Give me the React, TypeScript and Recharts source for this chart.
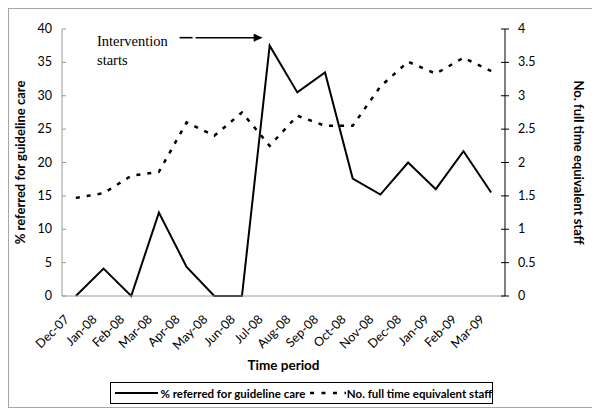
import React from 'react';
import { ComposedChart, Line, XAxis, YAxis, Legend, ReferenceLine } from 'recharts';

const months = ['Dec-07','Jan-08','Feb-08','Mar-08','Apr-08','May-08','Jun-08','Jul-08','Aug-08','Sep-08','Oct-08','Nov-08','Dec-08','Jan-09','Feb-09','Mar-09'];
const referred = [0, 4.1, 0, 12.5, 4.35, 0, 0, 37.5, 30.5, 33.5, 17.6, 15.2, 20.0, 16.0, 21.7, 15.5];
const staff = [1.47, 1.54, 1.8, 1.86, 2.6, 2.4, 2.75, 2.25, 2.7, 2.55, 2.55, 3.14, 3.51, 3.33, 3.57, 3.37];
const leftTicks = [0, 5, 10, 15, 20, 25, 30, 35, 40];
const rightTicks = [0, 0.5, 1, 1.5, 2, 2.5, 3, 3.5, 4];

const data = months.map((m, i) => ({ month: m, referred: referred[i], staff: staff[i] }));

const FONT = 'Lato, "Liberation Sans", sans-serif';

const LeftTick = (props: any) => {
  const { x, y, payload } = props;
  return (
    <g>
      <line x1={x + 8} x2={x + 12} y1={y} y2={y} stroke="#9a9a9a" strokeWidth={1} />
      <text x={x - 2} y={y} dy={4} textAnchor="end" fontSize={12.5} fontFamily={FONT} fill="#000">{payload.value}</text>
    </g>
  );
};

const RightTick = (props: any) => {
  const { x, y, payload } = props;
  return (
    <g>
      <line x1={x - 12} x2={x - 4} y1={y} y2={y} stroke="#000" strokeWidth={1} />
      <text x={x + 5} y={y} dy={4} textAnchor="start" fontSize={12.5} fontFamily={FONT} fill="#000">{payload.value}</text>
    </g>
  );
};

const XTick = (props: any) => {
  const { x, y, payload } = props;
  const ax = x - 6;
  const ay = y + 16;
  return (
    <text x={ax} y={ay} textAnchor="end" fontSize={12.5} fontFamily={FONT} fill="#000" transform={`rotate(-45 ${ax} ${ay})`}>{payload.value}</text>
  );
};

const ArrowShape = (props: any) => {
  const { x1, y1, x2 } = props;
  const sx = x1 - 7;
  const ex = x2 - 7;
  const y = y1;
  return (
    <g>
      <line x1={sx} x2={sx + 13} y1={y} y2={y} stroke="#000" strokeWidth={1.6} />
      <line x1={sx + 16} x2={ex - 8} y1={y} y2={y} stroke="#000" strokeWidth={1.6} />
      <polygon points={`${ex},${y} ${ex - 9},${y - 4} ${ex - 9},${y + 4}`} fill="#000" />
      <text x={97 - 9} y={y + 8} fontFamily='"Liberation Serif", "Times New Roman", serif' fontSize={14.5} fill="#000">Intervention</text>
      <text x={97 - 9} y={y + 27} fontFamily='"Liberation Serif", "Times New Roman", serif' fontSize={14.5} fill="#000">starts</text>
    </g>
  );
};

const LegendContent = () => (
  <div style={{ boxSizing: 'border-box', width: 383, height: 22, border: '1px solid #000', display: 'flex', alignItems: 'center', fontFamily: FONT, fontWeight: 700, fontSize: 11.5, color: '#000', whiteSpace: 'nowrap' }}>
    <svg width={47} height={10} style={{ marginLeft: 3 }}>
      <line x1={1} x2={44} y1={5} y2={5} stroke="#000" strokeWidth={2} />
    </svg>
    <span>% referred for guideline care</span>
    <svg width={38} height={10} style={{ marginLeft: 4 }}>
      <line x1={1} x2={37} y1={5} y2={5} stroke="#000" strokeWidth={2.5} strokeDasharray="4 7.5" />
    </svg>
    <span>No. full time equivalent staff</span>
  </div>
);

export default function App() {
  return (
    <div style={{ width: 584, height: 398, border: '1px solid #a6a6a6', background: '#fff' }}>
      <ComposedChart width={584} height={398} data={data} margin={{ top: 20, right: 0, bottom: 3, left: 0 }}>
        <XAxis
          dataKey="month"
          xAxisId="x"
          scale="band"
          interval={0}
          tick={<XTick />}
          tickLine={false}
          axisLine={{ stroke: '#9a9a9a' }}
          height={86}
          label={(p: any) => {
            const vb = p.viewBox;
            return <text x={vb.x + vb.width / 2} y={vb.y + 74} textAnchor="middle" fontFamily={FONT} fontWeight={700} fontSize={13.5} fill="#000">Time period</text>;
          }}
        />
        <YAxis
          yAxisId="left"
          domain={[0, 40]}
          ticks={leftTicks}
          interval={0}
          width={53}
          tick={<LeftTick />}
          tickLine={false}
          axisLine={{ stroke: '#9a9a9a' }}
          label={(p: any) => {
            const vb = p.viewBox;
            const cx = 12;
            const cy = vb.y + vb.height / 2;
            return <text x={cx} y={cy} transform={`rotate(-90 ${cx} ${cy})`} dy={4} textAnchor="middle" fontFamily={FONT} fontWeight={700} fontSize={13} fill="#000">% referred for guideline care</text>;
          }}
        />
        <YAxis
          yAxisId="right"
          orientation="right"
          domain={[0, 4]}
          ticks={rightTicks}
          interval={0}
          width={88}
          tick={<RightTick />}
          tickLine={false}
          axisLine={{ stroke: '#000' }}
          label={(p: any) => {
            const vb = p.viewBox;
            const cx = vb.x + 73;
            const cy = vb.y + vb.height / 2;
            return <text x={cx} y={cy} transform={`rotate(90 ${cx} ${cy})`} dy={4} textAnchor="middle" fontFamily={FONT} fontWeight={700} fontSize={13} fill="#000">No. full time equivalent staff</text>;
          }}
        />
        <ReferenceLine
          xAxisId="x"
          yAxisId="left"
          segment={[{ x: 'Apr-08', y: 38.7 }, { x: 'Jul-08', y: 38.7 }]}
          shape={<ArrowShape />}
          ifOverflow="visible"
        />
        <Line xAxisId="x" yAxisId="right" type="linear" dataKey="staff" name="No. full time equivalent staff" stroke="#000" strokeWidth={2.5} strokeDasharray="4 7" dot={false} isAnimationActive={false} />
        <Line xAxisId="x" yAxisId="left" type="linear" dataKey="referred" name="% referred for guideline care" stroke="#000" strokeWidth={2} dot={false} isAnimationActive={false} />
        <Legend verticalAlign="bottom" content={<LegendContent />} wrapperStyle={{ left: 101, width: 383, height: 22 }} />
      </ComposedChart>
    </div>
  );
}
